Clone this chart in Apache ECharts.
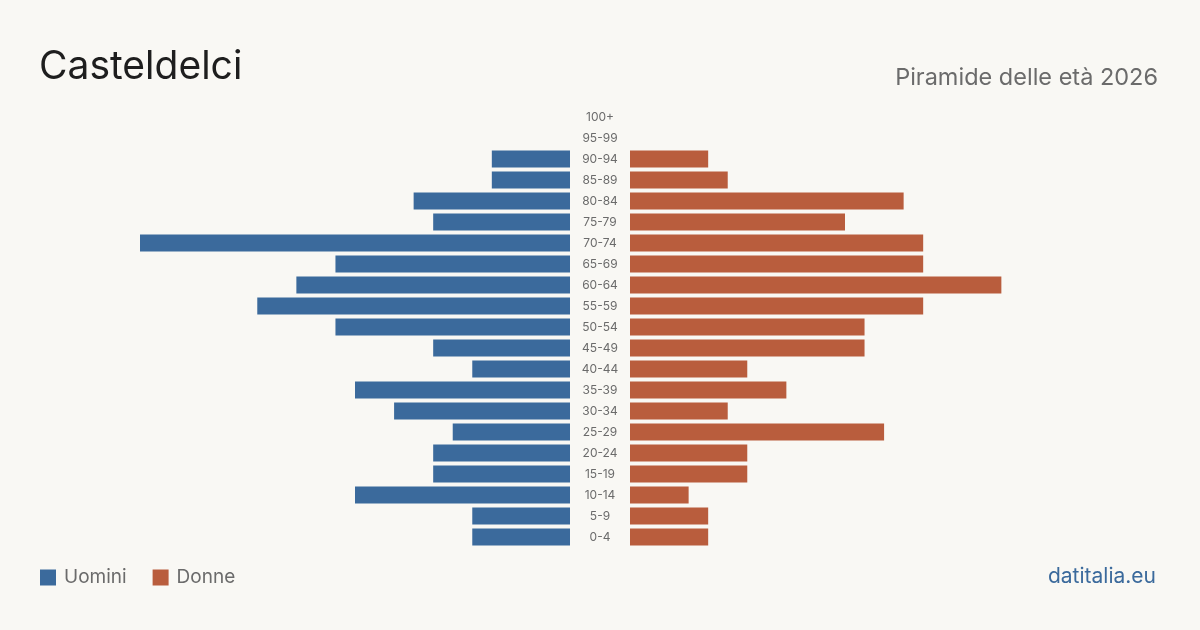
<!DOCTYPE html>
<html>
<head>
<meta charset="utf-8">
<script src="https://cdn.jsdelivr.net/npm/echarts@6/dist/echarts.min.js"></script>
<style>
  html, body { margin: 0; padding: 0; background: #f9f8f4; }
  #chart { width: 1200px; height: 630px; }
</style>
</head>
<body>
<div id="chart"></div>
<script>
// fasce d'età, dall'alto verso il basso
const ageGroups = ["100+", "95-99", "90-94", "85-89", "80-84", "75-79", "70-74", "65-69",
  "60-64", "55-59", "50-54", "45-49", "40-44", "35-39", "30-34", "25-29",
  "20-24", "15-19", "10-14", "5-9", "0-4"];
const uomini = [0, 0, 4, 4, 8, 7, 22, 12, 14, 16, 12, 7, 5, 11, 9, 6, 7, 7, 11, 5, 5];
const donne = [0, 0, 4, 5, 14, 11, 15, 15, 19, 15, 12, 12, 6, 8, 5, 13, 6, 6, 3, 4, 4];
const maxVal = 22;

const BLUE = "#3b6a9c";
const ORANGE = "#b95d3d";

const chart = echarts.init(document.getElementById("chart"));

const option = {
  backgroundColor: "#f9f8f4",
  animation: false,
  textStyle: { fontFamily: "Inter" },
  title: [
    {
      text: "Casteldelci",
      left: 39, top: 48, padding: 0,
      textStyle: { fontSize: 39, fontWeight: 400, color: "#1e1e1e", fontFamily: "Inter" }
    },
    {
      text: "Piramide delle età 2026",
      right: 42, top: 66, padding: 0,
      textStyle: { fontSize: 23.5, fontWeight: 400, color: "#6b6b6b", fontFamily: "Inter" }
    },
    {
      text: "datitalia.eu",
      right: 44, top: 566, padding: 0,
      textStyle: { fontSize: 21, fontWeight: 400, color: "#3b6a9c", fontFamily: "Inter" }
    }
  ],
  legend: {
    left: 40, top: 568, padding: 0,
    itemWidth: 16, itemHeight: 16, itemGap: 26,
    icon: "rect",
    textStyle: { fontSize: 19, color: "#6b6b6b", fontFamily: "Inter", padding: [0, 0, 0, 3] },
    data: ["Uomini", "Donne"]
  },
  grid: [
    { left: 140, width: 430, top: 106.5, height: 441, containLabel: false },
    { left: 630, width: 430, top: 106.5, height: 441, containLabel: false }
  ],
  xAxis: [
    { gridIndex: 0, type: "value", min: 0, max: maxVal, inverse: true, show: false },
    { gridIndex: 1, type: "value", min: 0, max: maxVal, show: false }
  ],
  yAxis: [
    {
      gridIndex: 0, type: "category", data: ageGroups, inverse: true, position: "right",
      axisLine: { show: false }, axisTick: { show: false },
      axisLabel: { margin: 30, align: "center", fontSize: 12, color: "#6b6b6b", fontFamily: "Inter" }
    },
    {
      gridIndex: 1, type: "category", data: ageGroups, inverse: true,
      axisLine: { show: false }, axisTick: { show: false }, axisLabel: { show: false }
    }
  ],
  series: [
    {
      name: "Uomini", type: "bar", xAxisIndex: 0, yAxisIndex: 0,
      data: uomini, barCategoryGap: "19%",
      itemStyle: { color: BLUE }
    },
    {
      name: "Donne", type: "bar", xAxisIndex: 1, yAxisIndex: 1,
      data: donne, barCategoryGap: "19%",
      itemStyle: { color: ORANGE }
    }
  ]
};

chart.setOption(option);
</script>
</body>
</html>
